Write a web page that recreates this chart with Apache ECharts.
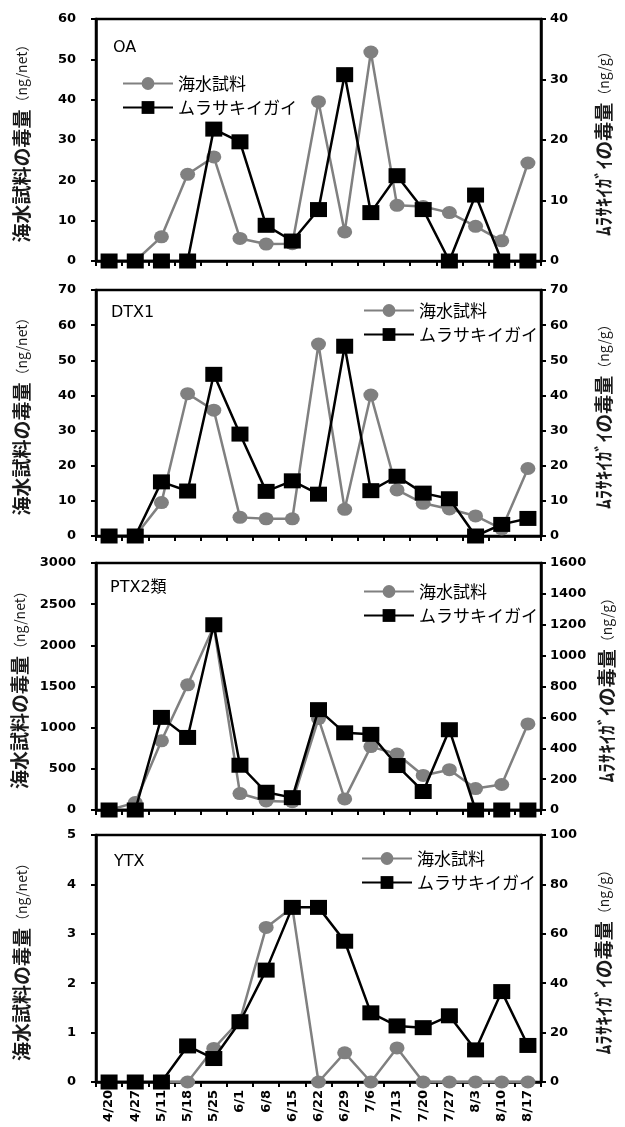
<!DOCTYPE html>
<html>
<head>
<meta charset="utf-8">
<script src="https://cdn.jsdelivr.net/npm/echarts@6/dist/echarts.min.js"></script>
<style>
  html, body { margin: 0; padding: 0; background: #fff; }
  #chart { width: 625px; height: 1127px; }
</style>
</head>
<body>
<div id="chart"></div>
<script>
// sampling dates
const dates = ['4/20', '4/27', '5/11', '5/18', '5/25', '6/1', '6/8', '6/15', '6/22',
  '6/29', '7/6', '7/13', '7/20', '7/27', '8/3', '8/10', '8/17']

// OA
const oaSea = [0, 0, 6, 21.5, 25.8, 5.6, 4.2, 4.3, 39.5, 7.2, 51.8, 13.8, 13.5, 12, 8.6, 5, 24.3]
const oaMussel = [0, 0, 0, 0, 21.8, 19.7, 5.9, 3.3, 8.5, 30.8, 8, 14.1, 8.5, 0, 10.9, 0, 0]
// DTX1
const dtx1Sea = [0, 0, 9.5, 40.5, 35.8, 5.3, 4.9, 4.9, 54.6, 7.6, 40.1, 13.1, 9.3, 7.7, 5.7, 2, 19.2]
const dtx1Mussel = [0, 0, 15.4, 12.8, 46, 29, 12.7, 15.7, 11.9, 54, 12.9, 17, 12.2, 10.6, 0, 3.3, 5]
// PTX2類
const ptx2Sea = [0, 90, 840, 1520, 2230, 200, 110, 100, 1110, 135, 770, 680, 420, 490, 260, 310, 1046]
const ptx2Mussel = [0, 0, 600, 470, 1200, 290, 115, 80, 650, 500, 490, 288, 120, 520, 0, 0, 0]
// YTX
const ytxSea = [0, 0, 0, 0, 0.68, 1.25, 3.13, 3.53, 0, 0.59, 0, 0.69, 0, 0, 0, 0, 0]
const ytxMussel = [0, 0, 0, 14.6, 9.5, 24.4, 45.3, 70.7, 70.7, 57, 28, 22.7, 22, 26.8, 13, 36.6, 14.8]

const panelNames = ['OA', 'DTX1', 'PTX2類', 'YTX']
const seaData = [oaSea, dtx1Sea, ptx2Sea, ytxSea]
const musselData = [oaMussel, dtx1Mussel, ptx2Mussel, ytxMussel]
const leftMax = [60, 70, 3000, 5]
const leftStep = [10, 10, 500, 1]
const rightMax = [40, 70, 1600, 100]
const rightStep = [10, 10, 200, 20]

const SEA = '海水試料'
const MUSSEL = 'ムラサキイガイ'

// layout
const gridTops = [19, 290, 563, 835]
const gridHeights = [242, 246, 247, 247]
const legendPos = [[117, 70], [358, 297], [358, 578], [356, 845]]
const titlePos = [[108, 35], [106, 300], [105, 575], [109, 849]]

const numFont = 'DejaVu Sans'
const jpFont = 'Noto Sans CJK JP'
const gray = '#808080'
const plain = v => String(v)

const nameRich = {
  a: { fontFamily: jpFont, fontSize: 19, fontWeight: 'bold', color: '#1a1a1a' },
  b: { fontFamily: jpFont, fontSize: 14, color: '#1a1a1a' }
}

const grids = []
const xAxes = []
const yAxes = []
const series = []
const legends = []
const titles = []

panelNames.forEach((name, i) => {
  const last = i === panelNames.length - 1
  grids.push({
    left: 96,
    right: 84,
    top: gridTops[i],
    height: gridHeights[i],
    show: true,
    borderColor: '#000',
    borderWidth: 2.5
  })
  xAxes.push({
    type: 'category',
    gridIndex: i,
    data: dates,
    boundaryGap: true,
    axisLine: { lineStyle: { color: '#000', width: 2.5 } },
    axisTick: { show: true, interval: 0, length: 5, lineStyle: { color: '#000', width: 2 } },
    axisLabel: {
      show: last,
      interval: 0,
      rotate: 90,
      margin: 8,
      color: '#000',
      fontFamily: numFont,
      fontWeight: 'bold',
      fontSize: 13
    }
  })
  yAxes.push({
    type: 'value',
    gridIndex: i,
    position: 'left',
    min: 0,
    max: leftMax[i],
    interval: leftStep[i],
    splitLine: { show: false },
    axisLine: { show: true, lineStyle: { color: '#000', width: 2.5 } },
    axisTick: { show: true, length: 5, lineStyle: { color: '#000', width: 2 } },
    axisLabel: { margin: 20, color: '#000', fontFamily: numFont, fontWeight: 'bold', fontSize: 13, formatter: plain },
    name: '{a|海水試料の毒量}{b|（ng/net）}',
    nameLocation: 'middle',
    nameRotate: 90,
    nameGap: 65,
    nameTextStyle: { rich: nameRich }
  })
  yAxes.push({
    type: 'value',
    gridIndex: i,
    position: 'right',
    min: 0,
    max: rightMax[i],
    interval: rightStep[i],
    splitLine: { show: false },
    axisLine: { show: true, lineStyle: { color: '#000', width: 2.5 } },
    axisTick: { show: true, length: 5, lineStyle: { color: '#000', width: 2 } },
    axisLabel: { margin: 9, color: '#000', fontFamily: numFont, fontWeight: 'bold', fontSize: 13, formatter: plain },
    name: '{a|ﾑﾗｻｷｲｶﾞｲの毒量}{b|（ng/g）}',
    nameLocation: 'middle',
    nameRotate: 90,
    nameGap: 53,
    nameTextStyle: { rich: nameRich }
  })
  series.push({
    name: SEA,
    type: 'line',
    xAxisIndex: i,
    yAxisIndex: i * 2,
    data: seaData[i],
    symbol: 'circle',
    symbolSize: [15, 13],
    itemStyle: { color: gray },
    lineStyle: { color: gray, width: 2.5 },
    z: 2
  })
  series.push({
    name: MUSSEL,
    type: 'line',
    xAxisIndex: i,
    yAxisIndex: i * 2 + 1,
    data: musselData[i],
    symbol: 'rect',
    symbolSize: [17, 15],
    itemStyle: { color: '#000' },
    lineStyle: { color: '#000', width: 2.5 },
    z: 3
  })
  legends.push({
    data: [SEA, MUSSEL],
    orient: 'vertical',
    left: legendPos[i][0],
    top: legendPos[i][1],
    itemWidth: 50,
    itemHeight: 16,
    itemGap: 7,
    selectedMode: false,
    textStyle: { fontFamily: jpFont, fontSize: 17, color: '#000' }
  })
  titles.push({
    text: name,
    left: titlePos[i][0],
    top: titlePos[i][1],
    textStyle: { fontFamily: numFont + ', ' + jpFont, fontSize: 16, fontWeight: 'normal', color: '#000' }
  })
})

const chart = echarts.init(document.getElementById('chart'))
chart.setOption({
  animation: false,
  backgroundColor: '#fff',
  title: titles,
  legend: legends,
  grid: grids,
  xAxis: xAxes,
  yAxis: yAxes,
  series: series
})
</script>
</body>
</html>
